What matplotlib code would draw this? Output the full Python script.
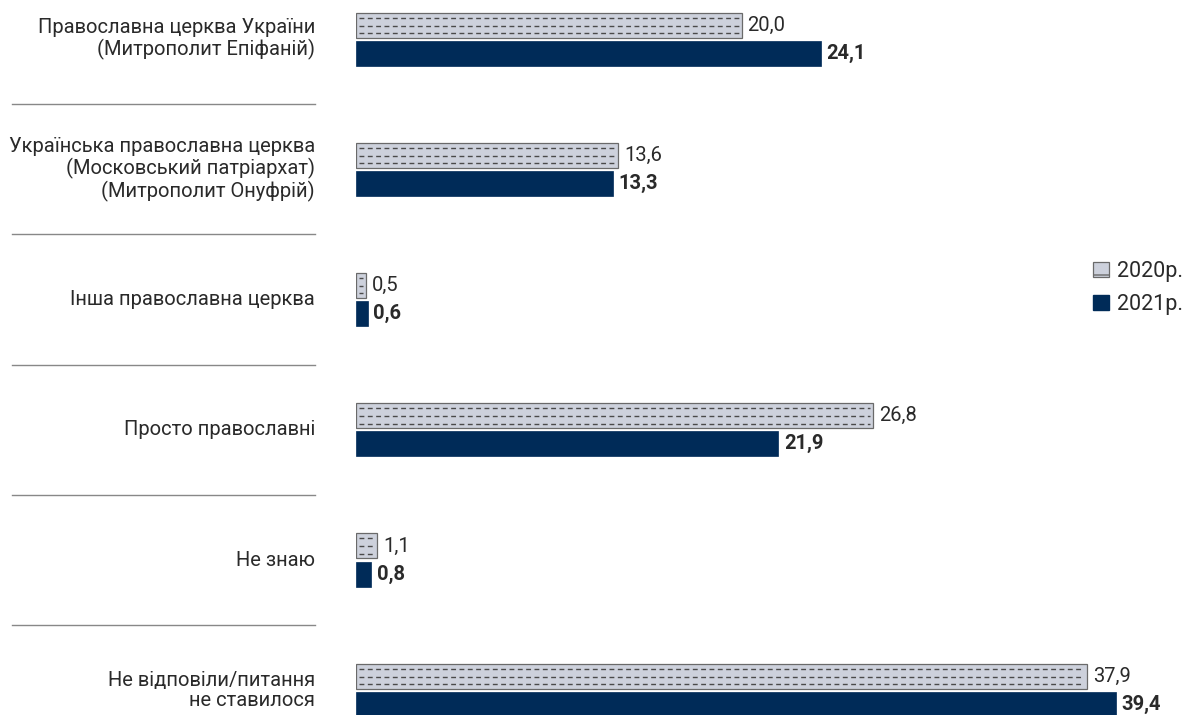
import matplotlib
matplotlib.use("Agg")
import matplotlib.pyplot as plt
from matplotlib.patches import Patch
from matplotlib.transforms import blended_transform_factory

categories = [
    "Православна церква України\n(Митрополит Епіфаній)",
    "Українська православна церква\n(Московський патріархат)\n(Митрополит Онуфрій)",
    "Інша православна церква",
    "Просто православні",
    "Не знаю",
    "Не відповіли/питання\nне ставилося",
]
values_2020 = [20.0, 13.6, 0.5, 26.8, 1.1, 37.9]
values_2021 = [24.1, 13.3, 0.6, 21.9, 0.8, 39.4]
series_names = ["2020р.", "2021р."]

W, H = 1184, 715
fig = plt.figure(figsize=(W / 100, H / 100), dpi=100)
plt.rcParams['font.family'] = ['Roboto', 'DejaVu Sans']

ax_left = 356 / W
ax = fig.add_axes([ax_left, 0, 1 - ax_left, 1])
ax.set_xlim(0, 828 / 19.29)
ax.set_ylim(5.19, -0.30)
ax.axis('off')

c2020 = "#cdd1dc"
c2020_edge = "#6a6a6a"
c2021 = "#002b58"
text_c = "#2a2a2a"
bh = 0.192
gap = 0.012
fs = 14.5

for i, (v0, v1) in enumerate(zip(values_2020, values_2021)):
    y0 = i - bh / 2 - gap
    y1 = i + bh / 2 + gap
    ax.barh(y0, v0, height=bh, color=c2020, edgecolor=c2020_edge, linewidth=0.9)
    for f in (-0.3, 0.02, 0.32):
        ax.hlines(y0 + f * bh, 0.15, v0 - 0.15, colors="#4a4a4a",
                  linestyles=(0, (3.5, 2.5)), linewidth=1.0)
    ax.barh(y1, v1, height=bh, color=c2021, edgecolor=c2021, linewidth=0.5)
    ax.text(v0 + 0.3, y0, f"{v0:.1f}".replace('.', ','), va='center', ha='left',
            fontsize=fs, color=text_c)
    ax.text(v1 + 0.3, y1, f"{v1:.1f}".replace('.', ','), va='center', ha='left',
            fontsize=fs, color=text_c, fontweight='bold')

tr = blended_transform_factory(fig.transFigure, ax.transData)
for i, cat in enumerate(categories):
    fig.text(315 / W, i, cat, transform=tr, ha='right', va='center',
             fontsize=fs, color=text_c, linespacing=1.1)
for i in range(len(categories) - 1):
    fig.add_artist(plt.Line2D([12 / W, 315 / W], [i + 0.5, i + 0.5], transform=tr,
                              color="#888888", linewidth=1.0))

handles = [Patch(facecolor=c2020, edgecolor=c2020_edge, hatch='-', linewidth=0.9),
           Patch(facecolor=c2021, edgecolor=c2021)]
leg = fig.legend(handles, series_names, loc='center left',
                 bbox_to_anchor=(1093 / W, 1 - 288 / H), frameon=False,
                 fontsize=15.5, handlelength=0.75, handleheight=0.75,
                 handletextpad=0.35, labelspacing=0.55, borderaxespad=0,
                 borderpad=0)
for t in leg.get_texts():
    t.set_color(text_c)

fig.savefig("out.png", dpi=100)
